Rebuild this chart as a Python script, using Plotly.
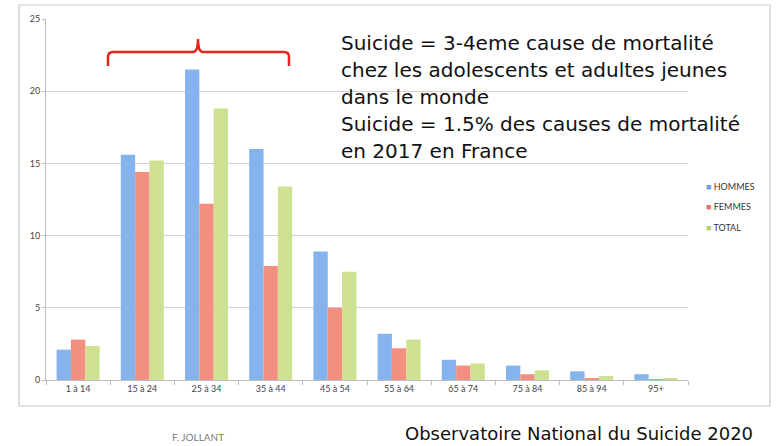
import plotly.graph_objects as go

# Suicide rate by age band (per 100 000), France
age_bands = ["1 à 14", "15 à 24", "25 à 34", "35 à 44", "45 à 54",
             "55 à 64", "65 à 74", "75 à 84", "85 à 94", "95+"]
hommes = [2.1, 15.6, 21.5, 16.0, 8.9, 3.2, 1.4, 1.0, 0.6, 0.4]
femmes = [2.8, 14.4, 12.2, 7.9, 5.0, 2.2, 1.0, 0.4, 0.1, 0.02]
total = [2.35, 15.2, 18.8, 13.4, 7.5, 2.8, 1.15, 0.67, 0.28, 0.07]

series_names = ["HOMMES", "FEMMES", "TOTAL"]
series_values = [hommes, femmes, total]
fill_colors = ["#84b3ee", "#f28f80", "#cde190"]
key_colors = ["#6a9ee6", "#ea7563", "#b7d273"]

headline = [
    "Suicide = 3-4eme cause de mortalité",
    "chez les adolescents et adultes jeunes",
    "dans le monde",
    "Suicide = 1.5% des causes de mortalité",
    "en 2017 en France",
]

W, H = 776, 446
PL, PR, PT, PB = 46, 688, 19, 380  # plot area in pixels


def px(x):
    return (x - PL) / (PR - PL)


def py(y):
    return (PB - y) / (PB - PT)


fig = go.Figure()
for name, vals, col in zip(series_names, series_values, fill_colors):
    fig.add_trace(go.Bar(
        x=age_bands, y=vals, name=name, showlegend=False,
        marker=dict(color=col, line=dict(width=0)),
    ))

shapes = []
# outer frame
shapes.append(dict(type="rect", xref="paper", yref="paper",
                   x0=px(19), x1=px(770), y0=py(406), y1=py(5),
                   line=dict(color="#c9c9c9", width=1.2), layer="below"))

# red brace over the 15–44 age groups
bx0, bx1, bxm = 108, 289, 198
by, btop, bbot, r = 52, 39, 66, 5
brace = (
    f"M {px(bx0)},{py(bbot)} L {px(bx0)},{py(by + r)} "
    f"Q {px(bx0)},{py(by)} {px(bx0 + r)},{py(by)} "
    f"L {px(bxm - r)},{py(by)} "
    f"Q {px(bxm)},{py(by)} {px(bxm)},{py(btop)} "
    f"Q {px(bxm)},{py(by)} {px(bxm + r)},{py(by)} "
    f"L {px(bx1 - r)},{py(by)} "
    f"Q {px(bx1)},{py(by)} {px(bx1)},{py(by + r)} "
    f"L {px(bx1)},{py(bbot)}"
)
shapes.append(dict(type="path", xref="paper", yref="paper", path=brace,
                   line=dict(color="#e8251c", width=2.5)))

annotations = []
# headline text block
for i, line in enumerate(headline):
    annotations.append(dict(
        xref="paper", yref="paper", x=px(339), y=py(43 + 27 * i),
        xanchor="left", yanchor="middle", showarrow=False, text=line,
        font=dict(family="DejaVu Sans, sans-serif", size=20, color="#111111")))

# series key
for i, (name, col) in enumerate(zip(series_names, key_colors)):
    annotations.append(dict(
        xref="paper", yref="paper", x=px(704), y=py(186 + 20.5 * i),
        xanchor="left", yanchor="middle", showarrow=False,
        text=f'<span style="color:{col}">■</span> {name}',
        font=dict(family="Lato, Open Sans, sans-serif", size=9, color="#333333")))

annotations += [
    dict(xref="paper", yref="paper", x=px(198), y=py(437), xanchor="center", yanchor="middle",
         showarrow=False, text="F. JOLLANT",
         font=dict(family="Liberation Sans Narrow, Lato, sans-serif", size=10, color="#7a7a7a")),
    dict(xref="paper", yref="paper", x=px(403), y=py(445.5), xanchor="left", yanchor="bottom",
         showarrow=False, text="Observatoire National du Suicide 2020",
         font=dict(family="DejaVu Sans, sans-serif", size=18, color="#111111")),
]

fig.update_layout(
    width=W, height=H,
    margin=dict(l=PL, r=W - PR, t=PT, b=H - PB, autoexpand=False),
    paper_bgcolor="white", plot_bgcolor="white",
    barmode="group", bargap=0.33, bargroupgap=0,
    font=dict(family="Lato, Open Sans, sans-serif", size=9, color="#444444"),
    shapes=shapes, annotations=annotations, showlegend=False,
)
fig.update_xaxes(
    type="category", showgrid=False, showline=True, linecolor="#bdbdbd", linewidth=1,
    ticks="outside", tickson="boundaries", ticklen=4, tickcolor="#bdbdbd",
    tickfont=dict(size=9, color="#444444"),
)
fig.update_yaxes(
    range=[0, 25], dtick=5, showgrid=True, gridcolor="#d2d2d2", gridwidth=1,
    showline=True, linecolor="#bdbdbd", linewidth=1, zeroline=False,
    ticks="outside", ticklen=3, tickcolor="#bdbdbd",
    tickfont=dict(size=9, color="#444444"),
)

fig.write_html("out.html")
